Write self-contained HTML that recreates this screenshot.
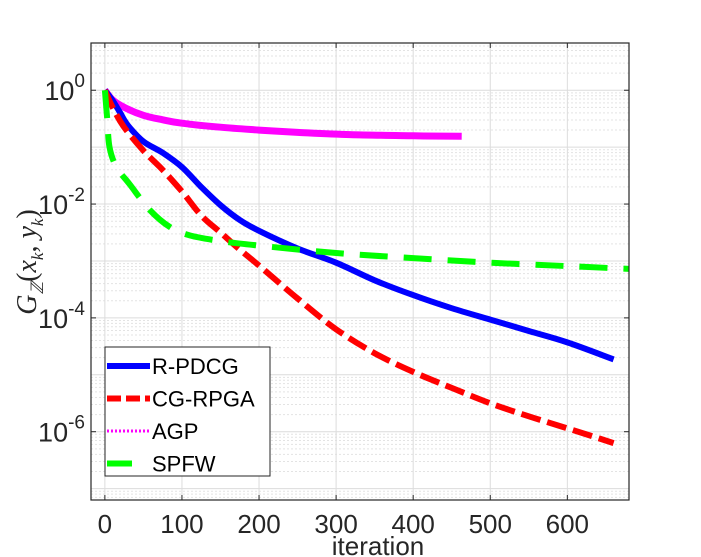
<!DOCTYPE html>
<html><head><meta charset="utf-8">
<style>
html,body{margin:0;padding:0;background:#fff;}
svg{display:block;font-family:"Liberation Sans",sans-serif;}
</style></head>
<body>
<svg id="chart" width="701" height="557" viewBox="0 0 701 557" xmlns="http://www.w3.org/2000/svg">
<g id="grid"></g>
<g id="series"></g>
<g id="axes"></g>
<g id="legend"></g>
</svg>
<script>
const xTicks = [0,100,200,300,400,500,600];
const yTickExps = [0,-2,-4,-6];
// series: iterations and log10 values
const rpdcgIter = [0,10,20,30,50,75,100,125,150,175,200,250,300,350,400,450,500,550,600,660];
const rpdcgLog  = [0,-0.18,-0.4,-0.62,-0.9,-1.1,-1.35,-1.7,-2.02,-2.28,-2.47,-2.78,-3.03,-3.34,-3.6,-3.83,-4.03,-4.23,-4.43,-4.73];
const cgIter = [0,10,25,50,75,100,125,150,175,200,250,300,350,400,450,500,550,600,660];
const cgLog  = [0,-0.3,-0.65,-1.06,-1.4,-1.78,-2.2,-2.5,-2.8,-3.08,-3.66,-4.2,-4.62,-4.95,-5.23,-5.5,-5.73,-5.94,-6.2];
const agpIter = [0,10,25,50,75,100,150,200,250,318,400,463];
const agpLog  = [0,-0.17,-0.3,-0.44,-0.52,-0.58,-0.65,-0.7,-0.74,-0.78,-0.8,-0.81];
const spfwIter = [0,3,6,15,32,58,84,110,150,200,300,400,500,600,680];
const spfwLog  = [0,-0.5,-1.0,-1.35,-1.65,-2.1,-2.4,-2.55,-2.65,-2.73,-2.86,-2.95,-3.03,-3.09,-3.14];

const L=91,R=629,T=43,B=500;
const xMin=-18,xMax=680;
const yTop=0.83, yBot=-7.2;
const xs=v=>L+(v-xMin)/(xMax-xMin)*(R-L);
const ys=l=>T+(yTop-l)/(yTop-yBot)*(B-T);
const NS="http://www.w3.org/2000/svg";
function mk(tag,attrs,parent){const e=document.createElementNS(NS,tag);for(const k in attrs)e.setAttribute(k,attrs[k]);parent.appendChild(e);return e;}
const grid=document.getElementById('grid'),series=document.getElementById('series'),axes=document.getElementById('axes'),legend=document.getElementById('legend');

mk('rect',{x:L,y:T,width:R-L,height:B-T,fill:'#fff'},grid);
for(let d=1;d>=-8;d--){for(let m=2;m<=9;m++){const l=d+Math.log10(m);if(l>yTop||l<yBot)continue;const y=ys(l);
const g=mk('line',{x1:L,x2:R,y1:y,y2:y,stroke:'#e3e3e3','stroke-width':1,'stroke-dasharray':'2,2'},grid);


}}
for(let d=1;d>=-8;d--){if(d>yTop||d<yBot)continue;const y=ys(d);
const g=mk('line',{x1:L,x2:R,y1:y,y2:y,stroke:'#dcdcdc','stroke-width':1},grid);


}
xTicks.forEach(v=>{const x=xs(v);
const g=mk('line',{x1:x,x2:x,y1:T,y2:B,stroke:'#dcdcdc','stroke-width':1},grid);


});

function path(iter,logs){
  const P=iter.map((v,i)=>[xs(v),ys(logs[i])]);
  let d='M'+P[0][0].toFixed(1)+','+P[0][1].toFixed(1);
  for(let i=0;i<P.length-1;i++){
    const p0=P[Math.max(0,i-1)],p1=P[i],p2=P[i+1],p3=P[Math.min(P.length-1,i+2)];
    const c1=[p1[0]+(p2[0]-p0[0])/6,p1[1]+(p2[1]-p0[1])/6];
    const c2=[p2[0]-(p3[0]-p1[0])/6,p2[1]-(p3[1]-p1[1])/6];
    d+=' C'+c1[0].toFixed(1)+','+c1[1].toFixed(1)+' '+c2[0].toFixed(1)+','+c2[1].toFixed(1)+' '+p2[0].toFixed(1)+','+p2[1].toFixed(1);
  }
  return d;
}
const defs=[
 {it:agpIter,lg:agpLog,color:'#ff00ff',dash:'',w:7,name:'agp-line'},
 {it:rpdcgIter,lg:rpdcgLog,color:'#0000ff',dash:'',w:6,name:'r-pdcg-line'},
 {it:cgIter,lg:cgLog,color:'#ff0000',dash:'20,7',w:6,name:'cg-rpga-line'},
 {it:spfwIter,lg:spfwLog,color:'#00ff00',dash:'28,16',w:6,name:'spfw-line'}
];
defs.forEach(s=>{const p=mk('path',{d:path(s.it,s.lg),fill:'none',stroke:s.color,'stroke-width':s.w,'stroke-linejoin':'round'},series);
if(s.dash)p.setAttribute('stroke-dasharray',s.dash);


});

mk('rect',{x:L,y:T,width:R-L,height:B-T,fill:'none',stroke:'#262626','stroke-width':1.2},axes);
xTicks.forEach(v=>{const x=xs(v);
mk('line',{x1:x,x2:x,y1:B,y2:B-5,stroke:'#262626'},axes);
mk('line',{x1:x,x2:x,y1:T,y2:T+5,stroke:'#262626'},axes);
const t=mk('text',{x:x,y:B+33,'text-anchor':'middle','font-size':26,fill:'#262626'},axes);
t.textContent=v;


});
yTickExps.forEach(e=>{const y=ys(e);
mk('line',{x1:L,x2:L+5,y1:y,y2:y,stroke:'#262626'},axes);
mk('line',{x1:R,x2:R-5,y1:y,y2:y,stroke:'#262626'},axes);
const t=mk('text',{x:L-6,y:y+10,'text-anchor':'end','font-size':27,fill:'#262626'},axes);


const a=mk('tspan',{},t);a.textContent='10';
const b=mk('tspan',{dy:-13,'font-size':19},t);b.textContent=String(e);
});
const xl=mk('text',{x:378,y:555,'text-anchor':'middle','font-size':26,fill:'#262626'},axes);
xl.textContent='iteration';


const yl=mk('text',{transform:'translate(36,262) rotate(-90)','text-anchor':'middle','font-size':28,fill:'#262626','font-family':'Liberation Serif, serif','font-style':'italic'},axes);


yl.innerHTML='G<tspan font-size="17" dy="7">ℤ</tspan><tspan dy="-7" font-style="normal">(</tspan>x<tspan font-size="17" dy="7">k</tspan><tspan dy="-7" font-style="normal">, </tspan>y<tspan font-size="17" dy="7">k</tspan><tspan dy="-7" font-style="normal">)</tspan>';

const lb=mk('rect',{x:105,y:347,width:165,height:129,fill:'#fff',stroke:'#262626','stroke-width':1},legend);


const lnames=['R-PDCG','CG-RPGA','AGP','SPFW'];
const lcolors=['#0000ff','#ff0000','#ff00ff','#00ff00'];
const ldash=['','14,5','2,2',''];
const lw=[6,6,3,6];
lnames.forEach((n,i)=>{const y=366+i*32.5;
const ln=mk('line',{x1:107,x2:150,y1:y,y2:y,stroke:lcolors[i],'stroke-width':lw[i]},legend);
if(ldash[i])ln.setAttribute('stroke-dasharray',ldash[i]);
if(i===3)ln.setAttribute('x2',132);
const t=mk('text',{x:152,y:y+8,'font-size':22,fill:'#000'},legend);
t.textContent=n;
const g=mk('g',{},legend);g.appendChild(ln);g.appendChild(t);


});
</script>
</body></html>
